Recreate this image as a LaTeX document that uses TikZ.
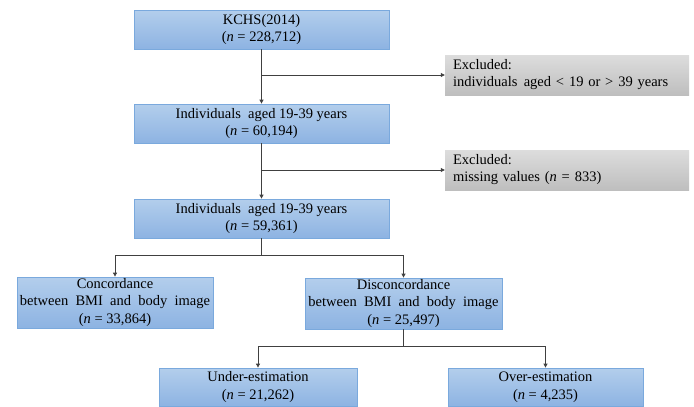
\documentclass[tikz,border=0pt]{standalone}
\usepackage{fontspec}
\setmainfont{Liberation Serif}
\usetikzlibrary{arrows.meta}
\definecolor{bluetop}{HTML}{B3CEEC}
\definecolor{bluebot}{HTML}{8DB3E2}
\definecolor{blueline}{HTML}{7AA9DD}
\definecolor{graytop}{HTML}{DDDDDD}
\definecolor{graybot}{HTML}{BEBEBE}
\definecolor{linecol}{HTML}{404040}
\begin{document}
\begin{tikzpicture}[x=1pt,y=-1pt,
  mainbox/.style={draw=blueline, line width=0.8pt, top color=bluetop, bottom color=bluebot,
    inner sep=0pt, align=center, font=\fontsize{14.5}{17.5}\selectfont},
  exbox/.style={top color=graytop, bottom color=graybot, inner sep=0pt,
    minimum width=244pt, minimum height=40pt, align=left, text width=228pt,
    font=\fontsize{14.5}{17}\selectfont},
  conn/.style={draw=linecol, line width=0.8pt},
  arr/.style={conn, -{Triangle[length=4pt,width=4pt]}}
]
\useasboundingbox (0,0) rectangle (694,407);
\node[mainbox, minimum width=255pt, minimum height=39pt] (kchs) at (261.5,29.5)
  {KCHS(2014)\\(\textit{n} = 228,712)};
\node[mainbox, minimum width=255pt, minimum height=39pt] (ind1) at (261.5,123.5)
  {Individuals\ \ aged 19-39 years\\(\textit{n} = 60,194)};
\node[mainbox, minimum width=255pt, minimum height=39pt] (ind2) at (261.5,218.5)
  {Individuals\ \ aged 19-39 years\\(\textit{n} = 59,361)};
\node[exbox] (ex1) at (567,75)
  {Excluded:\\individuals\hspace{1.5pt} aged < 19 or > 39 years};
\node[exbox] (ex2) at (567,170)
  {Excluded:\\missing values (\textit{n} = 833)};
\node[mainbox, minimum width=196pt, minimum height=51pt] (conc) at (115,302.5)
  {Concordance\\between\ \ BMI\ \ and\ \ body\ \ image\\(\textit{n} = 33,864)};
\node[mainbox, minimum width=197pt, minimum height=51pt] (disc) at (403.5,303.5)
  {Disconcordance\\between\ \ BMI\ \ and\ \ body\ \ image\\(\textit{n} = 25,497)};
\node[mainbox, minimum width=198pt, minimum height=38pt] (under) at (258,387)
  {Under-estimation\\(\textit{n} = 21,262)};
\node[mainbox, minimum width=195pt, minimum height=38pt] (over) at (545.5,387)
  {Over-estimation\\(\textit{n} = 4,235)};

\draw[arr] (kchs) -- (ind1);
\draw[arr] (kchs.south |- ex1.west) -- (ex1.west);
\draw[arr] (ind1) -- (ind2);
\draw[arr] (ind1.south |- ex2.west) -- (ex2.west);
\coordinate (j1) at (261.5,255);
\draw[conn] (ind2.south) -- (j1);
\draw[arr] (j1) -| (conc.north);
\draw[arr] (j1) -| (disc.north);
\coordinate (j2) at (403.5,346);
\draw[conn] (disc.south) -- (j2);
\draw[arr] (j2) -| (under.north);
\draw[arr] (j2) -| (over.north);
\end{tikzpicture}
\end{document}
